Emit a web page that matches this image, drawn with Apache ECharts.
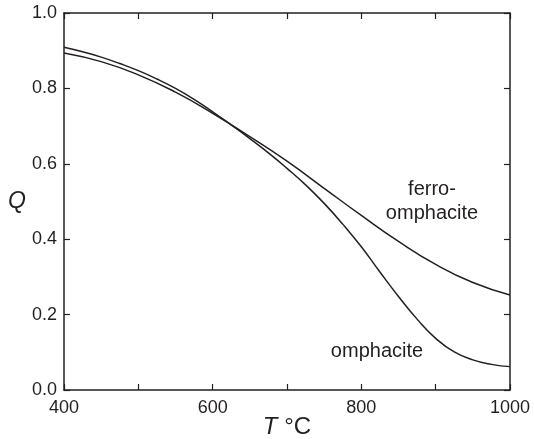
<!DOCTYPE html>
<html>
<head>
<meta charset="utf-8">
<script src="https://cdn.jsdelivr.net/npm/echarts@6/dist/echarts.min.js"></script>
<style>
  html, body { margin: 0; padding: 0; background: #fff; }
  #chart { width: 534px; height: 439px; }
</style>
</head>
<body>
<div id="chart"></div>
<script>
// temperatures (°C) and order parameter Q
const omphaciteT = [400, 425, 450, 475, 500, 525, 550, 575, 600, 625, 650, 675, 700, 725, 750, 775, 800, 825, 850, 875, 900, 925, 950, 975, 1000];
const omphaciteQ = [0.909, 0.897, 0.883, 0.866, 0.847, 0.825, 0.800, 0.771, 0.738, 0.703, 0.667, 0.629, 0.588, 0.544, 0.495, 0.440, 0.380, 0.313, 0.248, 0.188, 0.137, 0.101, 0.080, 0.068, 0.062];
const ferroT = [400, 450, 500, 550, 600, 650, 700, 750, 800, 850, 900, 950, 1000];
const ferroQ = [0.894, 0.871, 0.836, 0.790, 0.734, 0.672, 0.607, 0.535, 0.463, 0.394, 0.333, 0.285, 0.252];
const xTicks = [400, 600, 800, 1000];

const ink = '#231f20';
const font = 'Liberation Sans, Arial, Helvetica, sans-serif';

const chart = echarts.init(document.getElementById('chart'));

const pairs = (xs, ys) => xs.map((x, i) => [x, ys[i]]);

const axisCommon = {
    axisLine: { show: true, onZero: false, lineStyle: { color: ink, width: 1.5 } },
    axisTick: { show: true, inside: true, length: 6, lineStyle: { color: ink, width: 1.2 } },
    splitLine: { show: false }
};

const option = {
    animation: false,
    backgroundColor: '#fff',
    grid: { left: 64, right: 24, top: 13, bottom: 49, containLabel: false, outerBoundsMode: 'none' },
    xAxis: [
        Object.assign({}, axisCommon, {
            type: 'value', position: 'bottom',
            min: 400, max: 1000, interval: 100,
            name: '{i|T} °C',
            nameLocation: 'middle', nameGap: 25, nameMoveOverlap: false,
            nameTextStyle: {
                fontFamily: font, fontSize: 24, color: ink,
                rich: { i: { fontFamily: font, fontSize: 24, fontStyle: 'italic', color: ink } }
            },
            axisLabel: {
                margin: 9, fontFamily: font, fontSize: 18, color: ink,
                formatter: v => xTicks.indexOf(v) >= 0 ? String(v) : ''
            }
        }),
        Object.assign({}, axisCommon, {
            type: 'value', position: 'top',
            min: 400, max: 1000, interval: 100,
            axisLabel: { show: false }
        })
    ],
    yAxis: [
        Object.assign({}, axisCommon, {
            type: 'value', position: 'left',
            min: 0, max: 1, interval: 0.2,
            name: 'Q', nameLocation: 'middle', nameRotate: 0, nameGap: 38, nameMoveOverlap: false,
            nameTextStyle: { fontFamily: font, fontSize: 23, fontStyle: 'italic', color: ink },
            axisLabel: {
                margin: 7, fontFamily: font, fontSize: 18, color: ink,
                formatter: v => v.toFixed(1)
            }
        }),
        Object.assign({}, axisCommon, {
            type: 'value', position: 'right',
            min: 0, max: 1, interval: 0.2,
            axisLabel: { show: false }
        })
    ],
    series: [
        {
            name: 'omphacite', type: 'line', smooth: true, symbol: 'none',
            lineStyle: { color: ink, width: 1.5 },
            data: pairs(omphaciteT, omphaciteQ)
        },
        {
            name: 'ferro-omphacite', type: 'line', smooth: true, symbol: 'none',
            lineStyle: { color: ink, width: 1.5 },
            data: pairs(ferroT, ferroQ)
        }
    ],
    graphic: [
        {
            type: 'text',
            style: {
                text: 'ferro-\nomphacite', x: 432, y: 201,
                align: 'center', verticalAlign: 'middle', lineHeight: 24,
                font: '20px ' + font, fill: ink
            }
        },
        {
            type: 'text',
            style: {
                text: 'omphacite', x: 377, y: 351,
                align: 'center', verticalAlign: 'middle',
                font: '20px ' + font, fill: ink
            }
        }
    ]
};

chart.setOption(option);
</script>
</body>
</html>
